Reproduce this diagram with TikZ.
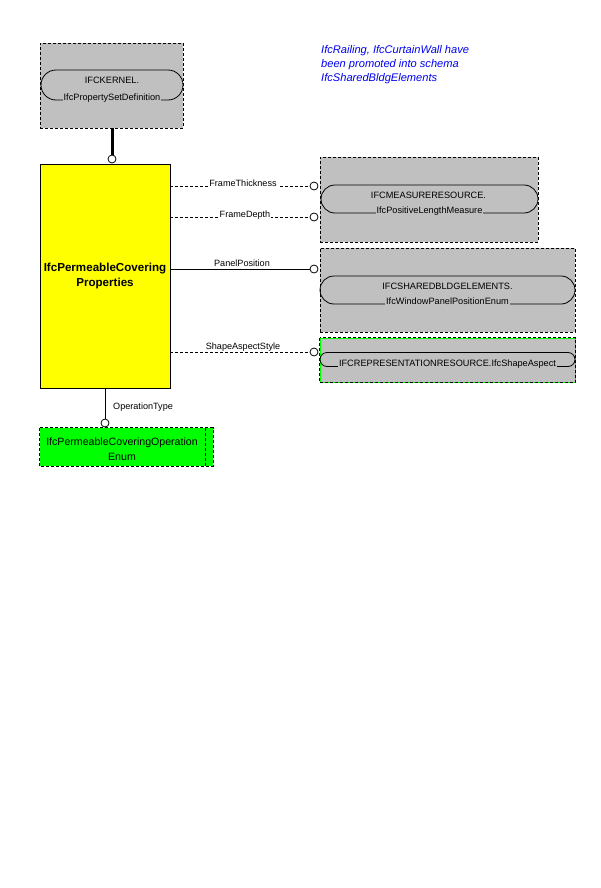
\documentclass[tikz,border=0pt]{standalone}
\usepackage{fontspec}
\setmainfont{Liberation Sans}
\usepackage{tikz}
\usetikzlibrary{positioning}
\definecolor{boxgray}{RGB}{192, 192, 192}
\definecolor{enumgreen}{RGB}{0, 255, 0}
\definecolor{entyellow}{RGB}{255, 255, 0}
\definecolor{noteblue}{RGB}{0, 0, 238}

\begin{document}
\begin{tikzpicture}[x=1pt, y=-1pt,
    schema/.style={rectangle, draw=black, fill=boxgray, line width=0.8pt,
                dash pattern=on 3pt off 2pt, inner sep=0pt},
    pill/.style={rectangle, rounded corners=#1, draw=black, line width=0.8pt,
                inner sep=0pt},
    ptext/.style={font=\fontsize{9.2}{10}\selectfont, inner sep=1pt},
    pbase/.style={ptext, fill=boxgray, anchor=base},
    lbl/.style={font=\fontsize{9.1}{10}\selectfont, inner sep=1pt, fill=white},
    ent/.style={rectangle, draw=black, fill=entyellow, line width=0.8pt,
                minimum width=130pt, minimum height=224pt, align=center,
                font=\fontsize{11.6}{15}\selectfont\bfseries},
    knob/.style={circle, draw=black, fill=white, line width=0.8pt,
                minimum size=8pt, inner sep=0pt},
    rel/.style={line width=0.8pt, dash pattern=on 3pt off 2pt},
    solid rel/.style={line width=0.8pt}
]
\useasboundingbox (0,0) rectangle (600,888);

% supertype
\node[schema, minimum width=143pt, minimum height=85pt] (kernel) at (111.5,85.5) {};
\node[pill=15pt, minimum width=142pt, minimum height=30pt] (kpill) at (112,85) {};
\node[ptext] at (112,80) {IFCKERNEL.};
\node[pbase] at (kpill.south) {IfcPropertySetDefinition};

% the entity
\node[ent] (props) at (105,276) {IfcPermeableCovering\\Properties};
\node[knob] (kknob) at (112,159) {};
\draw[line width=3pt] (kernel.south -| kknob) -- (kknob.north);

% referenced schemas
\node[schema, minimum width=218pt, minimum height=85pt] (measure) at (429,199.5) {};
\node[pill=14pt, minimum width=217pt, minimum height=28pt] (mpill) at (429.5,199) {};
\node[ptext] at (428.5,195) {IFCMEASURERESOURCE.};
\node[pbase] at (mpill.south) {IfcPositiveLengthMeasure};

\node[schema, minimum width=255pt, minimum height=84pt] (shared) at (447.5,290) {};
\node[pill=14pt, minimum width=255pt, minimum height=28pt] (spill) at (447.5,290) {};
\node[ptext] at (447.5,286) {IFCSHAREDBLDGELEMENTS.};
\node[pbase] at (spill.south) {IfcWindowPanelPositionEnum};

\node[schema, draw=enumgreen, dash pattern=, minimum width=255pt, minimum height=44pt] (shape) at (447.5,360) {};
\draw[rel] (shape.north west) rectangle (shape.south east);
\node[pill=7pt, minimum width=255pt, minimum height=14pt] (rpill) at (447.5,359.5) {};
\node[pbase] at (rpill.south) {IFCREPRESENTATIONRESOURCE.IfcShapeAspect};

% enumeration
\node[rectangle, fill=enumgreen, minimum width=173pt, minimum height=38pt, inner sep=0pt] (openum) at (126.5,447) {};
\draw[rel] (openum.north west) rectangle (openum.south east);
\draw[rel] (openum.north west) ++(166,0) -- ++(0,38);
\node[ptext, align=center, font=\fontsize{10.6}{14.5}\selectfont] at (122,449) {IfcPermeableCoveringOperation\\Enum};

% attributes
\node[knob] (ft) at (314,186) {};
\node[knob] (fd) at (314,217) {};
\node[knob] (pp) at (314,269) {};
\node[knob] (sa) at (314,352) {};
\node[knob] (ot) at (105,423) {};

\draw[rel] (ft -| props.east) -- (ft.west);
\draw[rel] (fd -| props.east) -- (fd.west);
\draw[solid rel] (pp -| props.east) -- (pp.west);
\draw[rel] (sa -| props.east) -- (sa.west);
\draw[solid rel] (props.south -| ot) -- (ot.north);

\node[lbl, anchor=base] at (243,186) {FrameThickness};
\node[lbl, anchor=base] at (245,217) {FrameDepth};
\node[lbl, anchor=base] at (242,266) {PanelPosition};
\node[lbl, anchor=base] at (243,349) {ShapeAspectStyle};
\node[lbl, anchor=base west] at (112,409) {OperationType};

% note
\node[font=\fontsize{11.1}{14}\selectfont\itshape, text=noteblue, align=left,
      anchor=north west, inner sep=0pt] (note) at (321,45)
      {IfcRailing, IfcCurtainWall have\\been promoted into schema\\IfcSharedBldgElements};
\end{tikzpicture}
\end{document}
